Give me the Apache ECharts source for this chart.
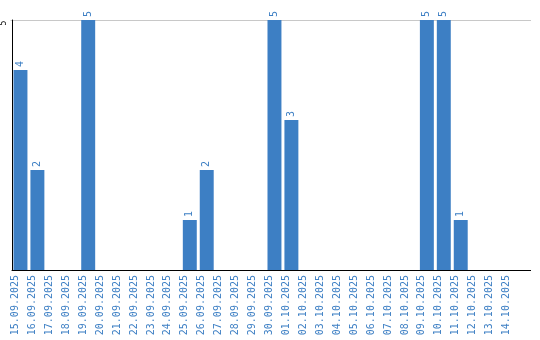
<!DOCTYPE html>
<html><head><meta charset="utf-8">
<script src="https://cdn.jsdelivr.net/npm/echarts@6/dist/echarts.min.js"></script>
<style>html,body{margin:0;padding:0;background:#fff}#c{width:540px;height:340px}</style>
</head><body><div id="c"></div>
<script>
const categories = ["15.09.2025","16.09.2025","17.09.2025","18.09.2025","19.09.2025","20.09.2025","21.09.2025","22.09.2025","23.09.2025","24.09.2025","25.09.2025","26.09.2025","27.09.2025","28.09.2025","29.09.2025","30.09.2025","01.10.2025","02.10.2025","03.10.2025","04.10.2025","05.10.2025","06.10.2025","07.10.2025","08.10.2025","09.10.2025","10.10.2025","11.10.2025","12.10.2025","13.10.2025","14.10.2025"];
const values = [4,2,null,null,5,null,null,null,null,null,1,2,null,null,null,5,3,null,null,null,null,null,null,null,5,5,1,null,null,null];
const yTicks = [5];
const blue = '#3d7fc4';
const chart = echarts.init(document.getElementById('c'));
chart.setOption({
  animation:false,
  grid:{left:10,right:20,top:20,bottom:70,containLabel:false},
  xAxis:{type:'category',data:categories,
    axisLine:{lineStyle:{color:'#000',width:1}},
    axisTick:{show:false},
    axisLabel:{interval:0,rotate:90,color:blue,fontFamily:'DejaVu Sans Mono',fontSize:10,margin:5,
      verticalAlign:'bottom'}},
  yAxis:{type:'value',min:0,max:5,interval:5,
    axisLine:{show:true,lineStyle:{color:'#000',width:1}},
    axisTick:{show:false},
    splitLine:{show:false},
    axisLabel:{rotate:90,fontFamily:'DejaVu Sans Mono',fontSize:8,color:'#000',margin:4,
      padding:[0,6,0,0],
      formatter:v=>yTicks.includes(v)?String(v):''}},
  series:[{type:'bar',data:values,barCategoryGap:'17.6%',
    itemStyle:{color:blue},
    label:{show:true,position:'top',rotate:90,align:'left',verticalAlign:'middle',distance:3,
      color:blue,fontFamily:'DejaVu Sans Mono',fontSize:10}}]
});
// top grid line (at the y max tick) running to the right edge, and x axis extension
const yTop = chart.convertToPixel({yAxisIndex:0},yTicks[0]);
const yBot = chart.convertToPixel({yAxisIndex:0},0);
chart.setOption({graphic:[
  {type:'line',z:-1,shape:{x1:10.5,y1:Math.round(yTop)+0.5,x2:531,y2:Math.round(yTop)+0.5},style:{stroke:'#c8c8c8',lineWidth:1},silent:true},
  {type:'line',shape:{x1:520,y1:Math.round(yBot)+0.5,x2:531,y2:Math.round(yBot)+0.5},style:{stroke:'#000',lineWidth:1},silent:true}
]});
</script></body></html>
